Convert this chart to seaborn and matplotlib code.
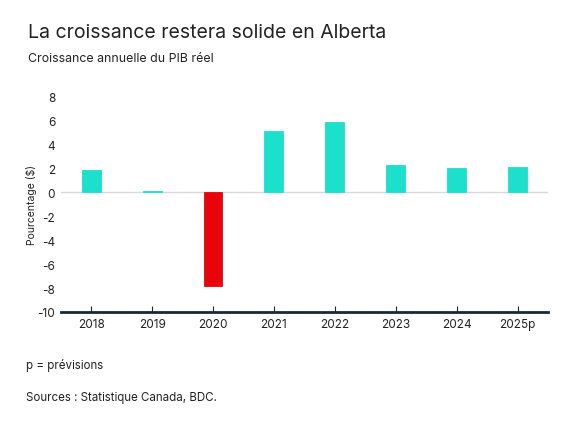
import matplotlib
matplotlib.use("Agg")
import matplotlib.pyplot as plt
import seaborn as sns
import pandas as pd

years = ["2018", "2019", "2020", "2021", "2022", "2023", "2024", "2025p"]
growth = [1.9, 0.1, -7.8, 5.1, 5.9, 2.3, 2.0, 2.1]
yticks = [-10, -8, -6, -4, -2, 0, 2, 4, 6, 8]

TEAL = "#1CE0CB"
RED = "#E8040A"
NAVY = "#15293C"
TEXT = "#222222"

sns.set_theme(style="white")
plt.rcParams["font.family"] = ["Inter", "DejaVu Sans"]

df = pd.DataFrame({"year": years, "growth": growth})
palette = {y: (RED if v < 0 else TEAL) for y, v in zip(years, growth)}

fig = plt.figure(figsize=(5.75, 4.31), dpi=100)
ax = fig.add_axes([0.1056, 0.2738, 0.9530 - 0.1056, 0.7733 - 0.2738])

ax.axhline(0, color="#D9D9D9", lw=1, zorder=0)
sns.barplot(data=df, x="year", y="growth", hue="year", palette=palette,
            legend=False, width=0.31, ax=ax, saturation=1, zorder=2)
for p, y in zip(ax.patches, years):
    p.set_edgecolor(palette[y])
    p.set_linewidth(0.6)

ax.set_xlim(-0.5, len(years) - 0.5)
ax.set_ylim(-10, 8)
ax.set_yticks(yticks)
ax.set_yticklabels([str(t) for t in yticks])

for s in ["top", "right", "left"]:
    ax.spines[s].set_visible(False)
ax.spines["bottom"].set_color(NAVY)
ax.spines["bottom"].set_linewidth(2)
ax.spines["bottom"].set_zorder(3)

ax.tick_params(axis="x", direction="in", length=4, width=0.8, color=NAVY,
               labelsize=8.5, labelcolor=TEXT, pad=4, bottom=True)
ax.tick_params(axis="y", length=0, labelsize=8.5, labelcolor=TEXT, pad=4)
ax.set_xlabel("")
ax.set_ylabel("Pourcentage ($)", fontsize=7.5, color=TEXT, labelpad=0)

fig.text(0.048, 1 - 33 / 431, "La croissance restera solide en Alberta",
         fontsize=14, color=TEXT, va="center", ha="left")
fig.text(0.048, 1 - 59 / 431, "Croissance annuelle du PIB réel",
         fontsize=8.9, color=TEXT, va="center", ha="left")
fig.text(0.045, 1 - 366 / 431, "p = prévisions",
         fontsize=8.3, color=TEXT, va="center", ha="left")
fig.text(0.045, 1 - 398 / 431, "Sources : Statistique Canada, BDC.",
         fontsize=8.3, color=TEXT, va="center", ha="left")

fig.savefig("out.png", dpi=100, facecolor="white")
